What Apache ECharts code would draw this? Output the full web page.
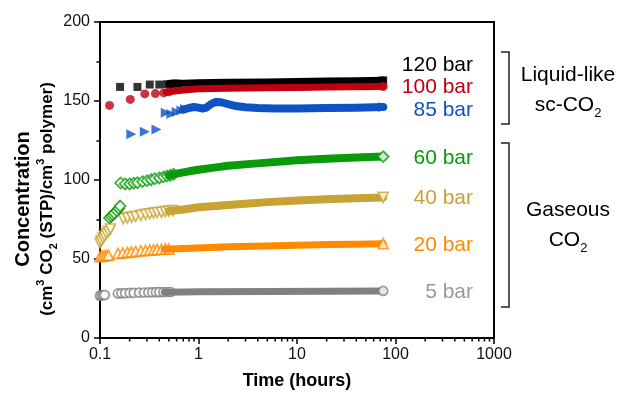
<!DOCTYPE html>
<html><head><meta charset="utf-8">
<script src="https://cdn.jsdelivr.net/npm/echarts@6/dist/echarts.min.js"></script>
<style>html,body{margin:0;padding:0;background:#fff}#c{width:622px;height:395px}</style>
</head><body><div id="c"></div>
<script>
// ---- data (time in hours, concentration in cm3(STP)/cm3) ----
const xTickLabels = ['0.1', '1', '10', '100', '1000'];
const xMinorTicks = [0.2,0.3,0.4,0.5,0.6,0.7,0.8,0.9, 2,3,4,5,6,7,8,9, 20,30,40,50,60,70,80,90, 200,300,400,500,600,700,800,900];
const yTickValues = [0, 50, 100, 150, 200];
const seriesNames = ['120 bar', '100 bar', '85 bar', '60 bar', '40 bar', '20 bar', '5 bar'];

const bar120Markers = [[0.16,158.9],[0.24,158.9],[0.32,160.4],[0.40,160.4],[0.48,160.6],[0.52,160.8],[0.56,161],[0.6,161.1]];
const bar120Band = [[0.5,160.8],[0.7,161.2],[1,161.6],[2,161.9],[5,162.1],[10,162.3],[20,162.6],[40,162.8],[75,163.1]];

const bar100Markers = [[0.125,147.2],[0.203,151],[0.285,154.5],[0.365,154.7],[0.444,155.1],[0.5,155.8]];
const bar100Band = [[0.47,155.6],[0.6,156.5],[0.8,157.3],[1,157.7],[2,158.1],[5,158.4],[10,158.6],[20,158.8],[40,159],[75,159.2]];

const bar85Markers = [[0.208,128.9],[0.285,130.5],[0.374,132],[0.465,142.6],[0.53,141.8],[0.6,143],[0.67,144],[0.73,145]];
const bar85Band = [[0.7,144.5],[0.8,145.6],[0.9,146.2],[1.0,145.8],[1.1,145.2],[1.2,145.8],[1.35,148.2],[1.5,149.4],[1.7,149.2],[2.0,148],[2.4,146.8],[3,146],[4,145.5],[6,145.3],[10,145.3],[20,145.5],[40,145.8],[75,146.2]];

const bar60Markers = [[0.125,76],[0.13,77],[0.135,78],[0.14,79],[0.148,80.5],[0.155,82],[0.16,83.5],
  [0.162,98.1],[0.18,97.5],[0.2,97.5],[0.22,98],[0.24,98.3],[0.27,99],[0.3,99.6],[0.33,100.2],[0.36,100.8],[0.4,101.3],[0.44,102],[0.48,102.5],[0.52,103],[0.56,103.6]];
const bar60Band = [[0.5,102.8],[0.6,104],[0.8,105.5],[1,106.5],[1.5,108],[2,109],[3.4,110.2],[5,111],[10,112.5],[20,113.4],[40,114.2],[75,114.8]];

const bar40Markers = [[0.1,60],[0.103,61.5],[0.107,63],[0.111,64.5],[0.116,66],[0.122,67.5],[0.128,69],
  [0.172,75.5],[0.19,76],[0.21,76.5],[0.23,77],[0.26,77.6],[0.29,78.2],[0.32,78.6],[0.35,79],[0.38,79.3],[0.42,79.6],[0.46,80],[0.5,80.3],[0.55,80.6]];
const bar40Band = [[0.5,80.3],[0.7,81.3],[1,82.8],[1.5,83.6],[2,84.2],[3,85],[5,86],[10,87],[20,87.8],[40,88.5],[75,89]];

const bar20Markers = [[0.1,51.5],[0.105,51.8],[0.11,52],[0.116,52.2],[0.122,52.4],
  [0.152,53.5],[0.17,53.9],[0.19,54.2],[0.208,54.5],[0.23,54.8],[0.26,55.1],[0.29,55.4],[0.32,55.6],[0.35,55.8],[0.38,56],[0.42,56.1],[0.46,56.2],[0.5,56.3]];
const bar20Band = [[0.45,56.2],[0.7,56.6],[1,57],[2,57.7],[5,58.3],[10,58.7],[20,59.1],[40,59.4],[75,59.7]];

const bar5Markers = [[0.1,26.8],[0.104,27],[0.108,27.1],[0.112,27.2],
  [0.152,28.2],[0.165,28.3],[0.18,28.4],[0.2,28.5],[0.22,28.6],[0.25,28.7],[0.28,28.8],[0.31,28.9],[0.34,28.9],[0.37,29],[0.4,29],[0.44,29],[0.48,29.1],[0.52,29.1]];
const bar5Band = [[0.45,29],[0.7,29.1],[1,29.2],[5,29.4],[20,29.6],[75,29.8]];

// ---- styling ----
const FONT = '"Liberation Sans", Arial, Helvetica, sans-serif';
const colors = {
  '120 bar': '#000000', '100 bar': '#c00010', '85 bar': '#0f52c4', '60 bar': '#0a9a0a',
  '40 bar': '#c8a232', '20 bar': '#ff8a00', '5 bar': '#808080'
};
const labelColors = Object.assign({}, colors, {'5 bar': '#999999'});
const symbols = {
  '120 bar': {symbol:'rect', size:8, rot:0, hollow:false, band:7},
  '100 bar': {symbol:'circle', size:9, rot:0, hollow:false, band:7},
  '85 bar': {symbol:'triangle', size:10, rot:-90, hollow:false, band:8},
  '60 bar': {symbol:'diamond', size:11, rot:0, hollow:true, band:8},
  '40 bar': {symbol:'triangle', size:10, rot:180, hollow:true, band:8},
  '20 bar': {symbol:'triangle', size:10, rot:0, hollow:true, band:7},
  '5 bar': {symbol:'circle', size:9, rot:0, hollow:true, band:7}
};
const markerData = {'120 bar':bar120Markers,'100 bar':bar100Markers,'85 bar':bar85Markers,'60 bar':bar60Markers,'40 bar':bar40Markers,'20 bar':bar20Markers,'5 bar':bar5Markers};
const bandData = {'120 bar':bar120Band,'100 bar':bar100Band,'85 bar':bar85Band,'60 bar':bar60Band,'40 bar':bar40Band,'20 bar':bar20Band,'5 bar':bar5Band};

const series = [];
const drawOrder = ['5 bar','20 bar','40 bar','60 bar','85 bar','120 bar','100 bar'];
drawOrder.forEach(function (name, k) {
  const c = colors[name], s = symbols[name];
  const band = bandData[name];
  const markerStyle = s.hollow ? {color: '#ffffff', borderColor: c, borderWidth: 1.7} : {color: c};
  // early (sparse) measurements; later points overlay earlier ones
  series.push({
    name: name, type: 'scatter', data: markerData[name],
    symbol: s.symbol, symbolSize: s.size, symbolRotate: s.rot, silent: true, z: 2 + k * 3,
    itemStyle: markerStyle, animation: false
  });
  // dense long-time measurements, rendered as a continuous band
  series.push({
    name: name + ' band', type: 'line', data: band, symbol: 'none', silent: true, z: 3 + k * 3,
    lineStyle: {color: c, width: s.band, cap: 'round', join: 'round'}, animation: false
  });
  // final measurement marker on top
  series.push({
    name: name + ' end', type: 'scatter', data: [band[band.length - 1]],
    symbol: s.symbol, symbolSize: s.size, symbolRotate: s.rot, silent: true, z: 4 + k * 3,
    itemStyle: markerStyle, animation: false
  });
});
// x minor ticks (log spaced) drawn through the x scale
series.push({
  type: 'custom', silent: true, clip: false, animation: false, z: 40,
  data: xMinorTicks.map(function (t) { return [t, 0]; }),
  renderItem: function (params, api) {
    const p = api.coord([api.value(0), 0]);
    return {type: 'line', shape: {x1: p[0], y1: p[1], x2: p[0], y2: p[1] + 3.5},
      style: {stroke: '#000', lineWidth: 1.5}};
  }
});

const labelY = {'120 bar':65,'100 bar':87,'85 bar':110,'60 bar':158,'40 bar':198,'20 bar':245,'5 bar':292};
const graphics = seriesNames.map(function (n) {
  return {type:'text', x:473, y:labelY[n], silent:true,
    style:{text:n, fill:labelColors[n], font:'21px ' + FONT, align:'right', verticalAlign:'middle'}};
});
const richBase = {
  n: {fontSize: 21, fontFamily: FONT, fill: '#000', lineHeight: 30},
  sub: {fontSize: 13, fontFamily: FONT, fill: '#000', lineHeight: 13, verticalAlign: 'bottom'}
};
graphics.push(
  {type:'text', x:568, y:90, silent:true, style:{text:'{n|Liquid-like}\n{n|sc-CO}{sub|2}', rich: richBase, align:'center', verticalAlign:'middle'}},
  {type:'text', x:568, y:225, silent:true, style:{text:'{n|Gaseous}\n{n|CO}{sub|2}', rich: richBase, align:'center', verticalAlign:'middle'}},
  {type:'polyline', silent:true, shape:{points:[[501,52],[509,52],[509,124],[501,124]]}, style:{stroke:'#222', lineWidth:1.5, fill:null}},
  {type:'polyline', silent:true, shape:{points:[[501,143],[509,143],[509,307],[501,307]]}, style:{stroke:'#222', lineWidth:1.5, fill:null}},
  {type:'text', x:35, y:199, rotation: Math.PI / 2, silent:true, style:{
    text:'{t|Concentration}\n{b|(cm}{sup|3}{b| CO}{sub|2}{b| (STP)/cm}{sup|3}{b| polymer)}',
    align:'center', verticalAlign:'middle',
    rich:{
      t:{fontSize:20, fontWeight:'bold', fontFamily:FONT, fill:'#000', lineHeight:24},
      b:{fontSize:17, fontWeight:'bold', fontFamily:FONT, fill:'#000', lineHeight:24},
      sup:{fontSize:11, fontWeight:'bold', fontFamily:FONT, fill:'#000', lineHeight:13, verticalAlign:'top'},
      sub:{fontSize:11, fontWeight:'bold', fontFamily:FONT, fill:'#000', lineHeight:11, verticalAlign:'bottom'}
    }}}
);

const chart = echarts.init(document.getElementById('c'), null, {renderer: 'canvas'});
chart.setOption({
  animation: false,
  backgroundColor: '#fff',
  grid: {left: 100, right: 128, top: 22, bottom: 55, show: true, borderColor: '#000', borderWidth: 2, containLabel: false},
  xAxis: {
    type: 'log', logBase: 10, min: 0.1, max: 1000, interval: 1,
    name: 'Time (hours)', nameLocation: 'middle', nameGap: 34,
    nameTextStyle: {fontSize: 18, fontWeight: 'bold', fontFamily: FONT, color: '#000'},
    axisLine: {lineStyle: {color: '#000', width: 2}},
    axisTick: {show: true, length: 6, lineStyle: {color: '#000', width: 1.5}},
    axisLabel: {fontSize: 16, fontFamily: FONT, color: '#111', margin: 9,
      formatter: function (v) {
        const i = Math.round(Math.log10(v)) + 1;
        return xTickLabels[i] !== undefined ? xTickLabels[i] : '';
      }},
    splitLine: {show: false}
  },
  yAxis: {
    type: 'value', min: yTickValues[0], max: yTickValues[yTickValues.length - 1], interval: 50,
    axisLine: {show: true, lineStyle: {color: '#000', width: 2}},
    axisTick: {show: true, length: 6, lineStyle: {color: '#000', width: 1.5}},
    minorTick: {show: true, splitNumber: 2, length: 3.5, lineStyle: {color: '#000', width: 1.5}},
    axisLabel: {fontSize: 16, fontFamily: FONT, color: '#111', margin: 10},
    splitLine: {show: false}, minorSplitLine: {show: false}
  },
  series: series,
  graphic: graphics
});
</script></body></html>
